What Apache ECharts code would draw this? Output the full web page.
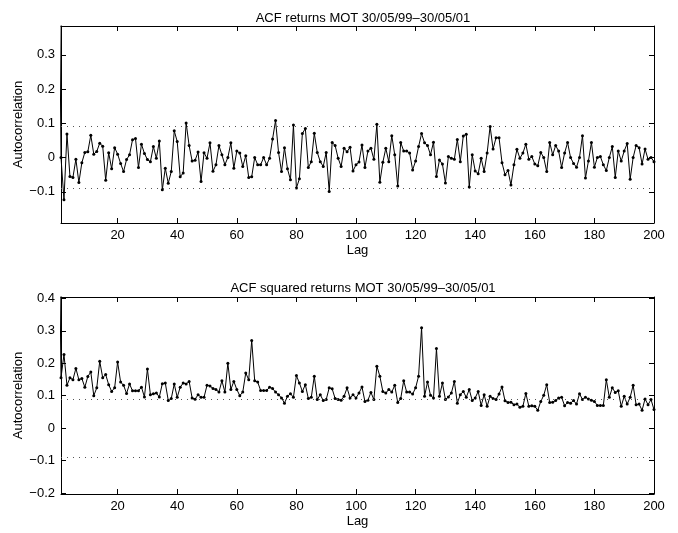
<!DOCTYPE html>
<html>
<head>
<meta charset="utf-8">
<script src="https://cdn.jsdelivr.net/npm/echarts@6/dist/echarts.min.js"></script>
<style>html,body{margin:0;padding:0;background:#fff;}#c{width:678px;height:533px;}</style>
</head>
<body>
<div id="c"></div>
<script>
// ACF of returns, lags 0..200
const acfReturns = [1.0,
  0.000,-0.123,0.069,-0.055,-0.058,-0.005,-0.073,-0.015,0.015,0.017,
  0.065,0.010,0.018,0.042,0.033,-0.066,0.014,-0.033,0.029,0.010,
  -0.017,-0.041,-0.006,0.008,0.052,0.056,-0.029,0.039,0.012,-0.006,
  -0.012,0.032,-0.002,0.048,-0.094,-0.031,-0.075,-0.041,0.078,0.047,
  -0.056,-0.045,0.101,0.035,-0.010,-0.008,0.016,-0.070,0.014,-0.002,
  0.043,-0.040,-0.021,0.035,0.008,-0.021,0.000,0.043,-0.031,0.019,
  0.013,-0.026,0.005,-0.058,-0.056,0.000,-0.021,-0.021,0.000,-0.021,
  -0.002,0.054,0.108,0.015,-0.041,0.029,-0.033,-0.065,0.095,-0.089,
  -0.062,0.070,0.085,-0.029,-0.012,0.071,0.015,-0.012,-0.026,0.015,
  -0.099,0.044,0.035,-0.002,-0.026,0.027,0.017,0.030,-0.039,-0.021,
  -0.013,0.037,-0.029,0.019,0.027,-0.005,0.097,-0.072,-0.014,0.027,
  -0.012,0.064,0.008,-0.083,0.044,0.019,0.019,0.013,-0.036,-0.010,
  0.032,0.070,0.043,0.035,0.008,0.045,-0.055,-0.007,-0.019,-0.074,
  0.003,-0.002,-0.005,0.053,-0.012,0.063,0.068,-0.086,0.008,-0.039,
  -0.047,-0.002,-0.041,0.013,0.091,0.025,0.058,0.058,-0.015,-0.050,
  -0.038,-0.080,-0.021,0.024,-0.002,0.013,0.039,-0.005,0.003,-0.019,
  -0.024,0.015,0.000,-0.041,0.044,0.008,0.035,0.019,-0.029,0.013,
  0.044,0.000,-0.017,-0.028,0.000,0.064,-0.060,-0.010,0.044,-0.028,
  0.000,0.003,-0.021,-0.038,0.000,0.032,-0.058,0.019,-0.010,0.019,
  0.041,-0.063,0.000,0.035,0.029,-0.019,0.025,-0.005,0.000,-0.012];

// ACF of squared returns, lags 0..200
const acfSquared = [1.0,
  0.155,0.227,0.132,0.155,0.149,0.184,0.149,0.153,0.126,0.159,
  0.173,0.100,0.124,0.206,0.155,0.165,0.134,0.113,0.124,0.204,
  0.142,0.132,0.107,0.136,0.115,0.115,0.115,0.126,0.096,0.182,
  0.103,0.106,0.108,0.096,0.137,0.139,0.085,0.091,0.136,0.095,
  0.126,0.139,0.136,0.144,0.093,0.089,0.103,0.095,0.095,0.132,
  0.130,0.122,0.119,0.111,0.146,0.111,0.200,0.119,0.144,0.119,
  0.100,0.111,0.170,0.149,0.270,0.146,0.142,0.116,0.116,0.116,
  0.126,0.122,0.111,0.103,0.093,0.077,0.098,0.106,0.095,0.162,
  0.139,0.113,0.134,0.091,0.095,0.160,0.088,0.103,0.085,0.088,
  0.124,0.121,0.091,0.088,0.086,0.098,0.124,0.093,0.103,0.093,
  0.108,0.127,0.082,0.086,0.110,0.088,0.191,0.160,0.113,0.108,
  0.119,0.111,0.132,0.079,0.091,0.146,0.111,0.111,0.105,0.124,
  0.160,0.309,0.098,0.142,0.101,0.093,0.245,0.098,0.139,0.088,
  0.096,0.108,0.144,0.077,0.103,0.113,0.095,0.119,0.085,0.093,
  0.113,0.070,0.103,0.067,0.098,0.091,0.088,0.105,0.127,0.084,
  0.079,0.080,0.072,0.074,0.064,0.067,0.107,0.067,0.069,0.067,
  0.055,0.082,0.101,0.134,0.079,0.080,0.085,0.093,0.095,0.069,
  0.079,0.077,0.085,0.074,0.106,0.088,0.095,0.090,0.086,0.082,
  0.070,0.070,0.070,0.149,0.095,0.124,0.110,0.115,0.067,0.098,
  0.074,0.095,0.132,0.072,0.074,0.055,0.090,0.072,0.088,0.057];

const confBound = 0.0894;
const xTicks = [20,40,60,80,100,120,140,160,180,200];
const yTicksTop = [-0.1,0,0.1,0.2,0.3];
const yTicksBottom = [-0.2,-0.1,0,0.1,0.2,0.3,0.4];
const titles = ['ACF returns MOT 30/05/99\u201330/05/01','ACF squared returns MOT 30/05/99\u201330/05/01'];

const FONT = 'Liberation Sans';
const FS = 13;
const chart = echarts.init(document.getElementById('c'), null, {renderer:'canvas'});

function xAx(gi, pos, labels){
  return {
    type:'value', gridIndex:gi, position:pos, min:1, max:200,
    name: labels ? 'Lag' : '', nameLocation:'middle', nameGap:21, nameMoveOverlap:false,
    nameTextStyle:{color:'#000', fontSize:FS, fontFamily:FONT},
    axisLine:{show:true, onZero:false, lineStyle:{color:'#000', width:1}},
    axisTick:{show:true, inside:true, length:5, customValues:xTicks, lineStyle:{color:'#000'}},
    axisLabel:{show:labels, customValues:xTicks, color:'#000', fontSize:FS, fontFamily:FONT, margin:6},
    splitLine:{show:false}
  };
}
function yAx(gi, pos, labels, mn, mx, ticks){
  return {
    type:'value', gridIndex:gi, position:pos, min:mn, max:mx,
    name: labels ? 'Autocorrelation' : '', nameLocation:'middle', nameGap:36, nameMoveOverlap:false,
    nameTextStyle:{color:'#000', fontSize:FS, fontFamily:FONT},
    axisLine:{show:true, onZero:false, lineStyle:{color:'#000', width:1}},
    axisTick:{show:true, inside:true, length:5, customValues:ticks, lineStyle:{color:'#000'}},
    axisLabel:{show:labels, customValues:ticks, color:'#000', fontSize:FS, fontFamily:FONT, margin:6,
      formatter: v => { const r = Math.round(v*10)/10; return r < 0 ? '\u2212' + String(-r) : String(r); }},
    splitLine:{show:false}
  };
}
function ser(gi, vals){
  return {
    type:'line', xAxisIndex:gi*2, yAxisIndex:gi*2, clip:true,
    data: vals.map((v,i)=>[i,v]),
    symbol:'circle', symbolSize:3, showSymbol:true,
    itemStyle:{color:'#000'}, lineStyle:{color:'#000', width:1},
    emphasis:{disabled:true},
    markLine:{silent:true, symbol:'none', label:{show:false},
      lineStyle:{type:[1,5], color:'#555', width:1},
      data:[{yAxis:confBound},{yAxis:-confBound}]}
  };
}

chart.setOption({
  animation:false,
  backgroundColor:'#fff',
  title:[
    {text:titles[0], left:358, top:7, textAlign:'center', textStyle:{fontSize:FS, fontWeight:'normal', color:'#000', fontFamily:FONT}},
    {text:titles[1], left:358, top:277, textAlign:'center', textStyle:{fontSize:FS, fontWeight:'normal', color:'#000', fontFamily:FONT}}
  ],
  grid:[
    {left:61, top:26, width:593, height:197},
    {left:61, top:297, width:593, height:197}
  ],
  xAxis:[xAx(0,'bottom',true), xAx(0,'top',false), xAx(1,'bottom',true), xAx(1,'top',false)],
  yAxis:[
    yAx(0,'left',true,-0.191,0.384,yTicksTop), yAx(0,'right',false,-0.191,0.384,yTicksTop),
    yAx(1,'left',true,-0.203,0.404,yTicksBottom), yAx(1,'right',false,-0.203,0.404,yTicksBottom)
  ],
  series:[ser(0, acfReturns), ser(1, acfSquared)]
});
</script>
</body>
</html>
